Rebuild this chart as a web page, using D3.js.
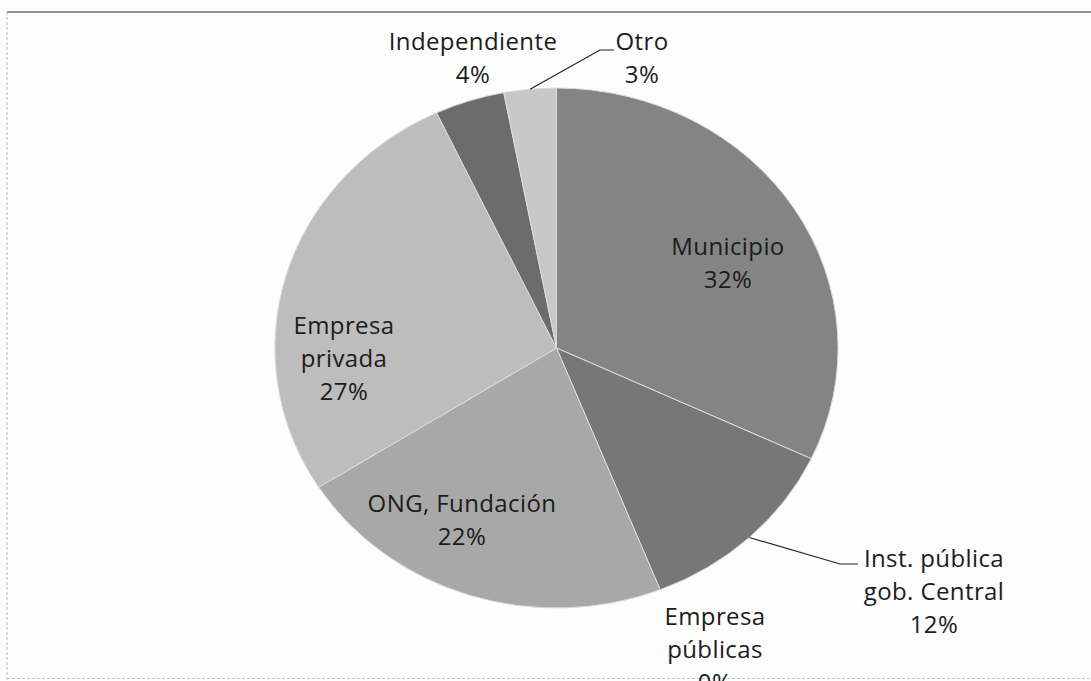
<!DOCTYPE html>
<html>
<head>
<meta charset="utf-8">
<script src="https://cdn.jsdelivr.net/npm/d3@7"></script>
<style>
  html, body { margin: 0; padding: 0; background: #fdfdfd; }
  svg { display: block; }
  text { font-family: "Open Sans", "DejaVu Sans", sans-serif; fill: #1c1c1c; }
</style>
</head>
<body>
<svg id="chart" width="1091" height="681"></svg>
<script>
// categories and shares, clockwise from 12 o'clock
const categories = ['Municipio', 'Inst. pública gob. Central', 'Empresa públicas', 'ONG, Fundación', 'Empresa privada', 'Independiente', 'Otro']
const shares = [32, 12, 0, 22, 27, 4, 3]
const sliceGrays = ['#848484', '#777777', '#9a9a9a', '#a8a8a8', '#bdbdbd', '#6c6c6c', '#c8c8c8']
const labelLines = [
  ['Municipio'],
  ['Inst. pública', 'gob. Central'],
  ['Empresa', 'públicas'],
  ['ONG, Fundación'],
  ['Empresa', 'privada'],
  ['Independiente'],
  ['Otro']
]

const W = 1091, H = 681
const cx = 556.5, cy = 348
const R = 260
const sx = 1.083 // the scanned chart is a bit wider than tall

// where each label sits (centre x, first baseline) and its leader elbow, if any
const labelLayout = {
  'Municipio': { x: 728, y: 255 },
  'Inst. pública gob. Central': { x: 934, y: 567, elbow: [840, 564], end: [858, 564] },
  'Empresa públicas': { x: 715, y: 625 },
  'ONG, Fundación': { x: 462, y: 512 },
  'Empresa privada': { x: 344, y: 334 },
  'Independiente': { x: 473, y: 50 },
  'Otro': { x: 642, y: 50, elbow: [600, 50], end: [614, 50] }
}
const lineGap = 33

const svg = d3.select('#chart')

svg.append('rect').attr('width', W).attr('height', H).attr('fill', '#fdfdfd')

// frame of the scanned figure
svg.append('line').attr('x1', 7).attr('x2', W).attr('y1', 12).attr('y2', 12)
  .attr('stroke', '#6e6e6e').attr('stroke-width', 1.6)
svg.append('line').attr('x1', 7).attr('x2', 7).attr('y1', 12).attr('y2', H)
  .attr('stroke', '#b5b5b5').attr('stroke-width', 1).attr('stroke-dasharray', '3,2')
svg.append('line').attr('x1', 7).attr('x2', W).attr('y1', 678.5).attr('y2', 678.5)
  .attr('stroke', '#c4c4c4').attr('stroke-width', 1).attr('stroke-dasharray', '3,2')

const data = categories.map((c, i) => ({ name: c, value: shares[i], color: sliceGrays[i], lines: labelLines[i] }))

const pie = d3.pie().sort(null).value(d => d.value)
const arcs = pie(data)
const arc = d3.arc().innerRadius(0).outerRadius(R)

const g = svg.append('g').attr('transform', `translate(${cx},${cy}) scale(${sx},1)`)

g.selectAll('path.slice')
  .data(arcs.filter(a => a.data.value > 0))
  .join('path')
  .attr('class', 'slice')
  .attr('d', arc)
  .attr('fill', d => d.data.color)
  .attr('stroke', '#dcdcdc')
  .attr('stroke-width', 1)
  .attr('vector-effect', 'non-scaling-stroke')

// point on the rim at the middle of a slice, in page coordinates
function rimPoint (a) {
  const mid = (a.startAngle + a.endAngle) / 2
  return [cx + sx * R * Math.sin(mid), cy - R * Math.cos(mid)]
}

// leader lines
arcs.forEach(a => {
  const lay = labelLayout[a.data.name]
  if (!lay.elbow) return
  const p = rimPoint(a)
  svg.append('path')
    .attr('d', d3.line()([p, lay.elbow, lay.end]))
    .attr('fill', 'none')
    .attr('stroke', '#222')
    .attr('stroke-width', 1.2)
})

// labels (the last line of "Empresa públicas" runs off the bottom, as in the scan)
arcs.forEach(a => {
  const lay = labelLayout[a.data.name]
  const lines = a.data.lines.concat([a.data.value + '%'])
  const t = svg.append('text')
    .attr('text-anchor', 'middle')
    .attr('font-size', 24)
    .attr('letter-spacing', 0.4)
  lines.forEach((ln, i) => {
    t.append('tspan')
      .attr('x', lay.x)
      .attr('y', lay.y + i * lineGap)
      .text(ln)
  })
})
</script>
</body>
</html>
